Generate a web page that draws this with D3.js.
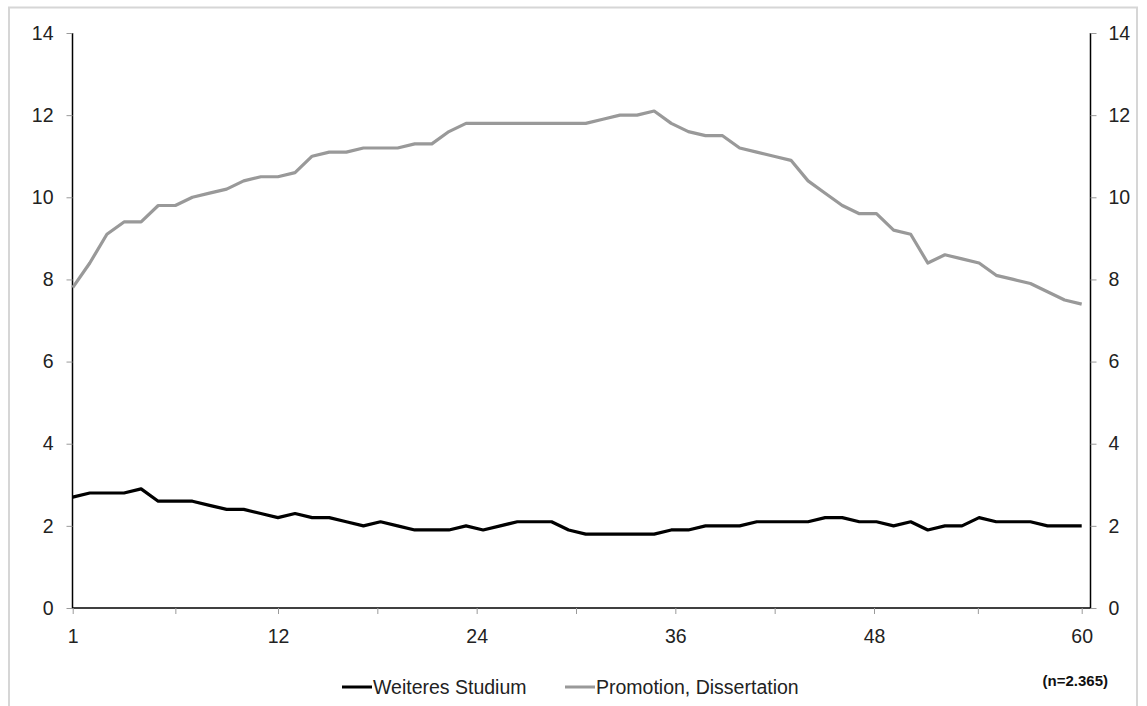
<!DOCTYPE html>
<html><head><meta charset="utf-8">
<script src="https://cdn.jsdelivr.net/npm/d3@7"></script>
<style>
html,body{margin:0;padding:0;background:#fff;}
svg text{font-family:"Liberation Sans",Arial,sans-serif;}
</style></head>
<body><svg id="c" width="1147" height="706"></svg>
<script>
const months = d3.range(1, 61);
const weiteresStudium = [2.7,2.8,2.8,2.8,2.9,2.6,2.6,2.6,2.5,2.4,2.4,2.3,2.2,2.3,2.2,2.2,2.1,2.0,2.1,2.0,1.9,1.9,1.9,2.0,1.9,2.0,2.1,2.1,2.1,1.9,1.8,1.8,1.8,1.8,1.8,1.9,1.9,2.0,2.0,2.0,2.1,2.1,2.1,2.1,2.2,2.2,2.1,2.1,2.0,2.1,1.9,2.0,2.0,2.2,2.1,2.1,2.1,2.0,2.0,2.0];
const promotion = [7.8,8.4,9.1,9.4,9.4,9.8,9.8,10.0,10.1,10.2,10.4,10.5,10.5,10.6,11.0,11.1,11.1,11.2,11.2,11.2,11.3,11.3,11.6,11.8,11.8,11.8,11.8,11.8,11.8,11.8,11.8,11.9,12.0,12.0,12.1,11.8,11.6,11.5,11.5,11.2,11.1,11.0,10.9,10.4,10.1,9.8,9.6,9.6,9.2,9.1,8.4,8.6,8.5,8.4,8.1,8.0,7.9,7.7,7.5,7.4];
const yTicks = [0,2,4,6,8,10,12,14];
const xTickValues = [1,6.5,12,18,24,30,36,42,48,54,60];
const xTickLabels = {1:"1",12:"12",24:"24",36:"36",48:"48",60:"60"};
const seriesNames = ["Weiteres Studium","Promotion, Dissertation"];
const seriesColors = ["#000000","#999999"];
const note = "(n=2.365)";

(function(){
const svg = d3.select("#c");
svg.append("rect").attr("x",9).attr("y",7.5).attr("width",1128).attr("height",720)
  .attr("fill","none").attr("stroke","#d6d6d6").attr("stroke-width",2);

const pL = 72.5, pR = 1090.5, pT = 33, pB = 608;
const x = d3.scaleLinear().domain([1,60]).range([72.7,1081.7]);
const xAxisScale = d3.scaleLinear().domain([1,12,48,60]).range([72.7,278,874,1081.7]);
const y = d3.scaleLinear().domain([0,14]).range([pB, pT]);
const FS = 19.5;

const gl = svg.append("g").attr("transform",`translate(${pL},0)`)
  .call(d3.axisLeft(y).tickValues(yTicks).tickSize(6).tickPadding(13).tickFormat(d3.format("d")));
const gr = svg.append("g").attr("transform",`translate(${pR},0)`)
  .call(d3.axisRight(y).tickValues(yTicks).tickSize(6).tickPadding(12).tickFormat(d3.format("d")));
const gb = svg.append("g").attr("transform",`translate(0,${pB})`)
  .call(d3.axisBottom(xAxisScale).tickValues(xTickValues).tickSize(6).tickPadding(15)
    .tickFormat(d => xTickLabels[d] || ""));

[gl,gr,gb].forEach(g=>{
  g.select(".domain").attr("stroke","#000").attr("stroke-width",1.5);
  g.selectAll(".tick line").attr("stroke","#9a9a9a");
  g.selectAll(".tick text").attr("font-size",FS).attr("fill","#222");
});
gb.select(".domain").attr("d",`M${pL},0H${pR}`);
gl.select(".domain").attr("d",`M0,${pT}V${pB}`);
gr.select(".domain").attr("d",`M0,${pT}V${pB}`);

const line = d3.line().x((d,i)=>x(months[i])).y(d=>y(d));
svg.append("path").datum(promotion).attr("d",line).attr("fill","none")
  .attr("stroke",seriesColors[1]).attr("stroke-width",3.2).attr("stroke-linejoin","round");
svg.append("path").datum(weiteresStudium).attr("d",line).attr("fill","none")
  .attr("stroke",seriesColors[0]).attr("stroke-width",3.2).attr("stroke-linejoin","round");

const legX = [342, 565];
seriesNames.forEach((n,i)=>{
  svg.append("line").attr("x1",legX[i]).attr("x2",legX[i]+30).attr("y1",687).attr("y2",687)
    .attr("stroke",seriesColors[i]).attr("stroke-width",3);
  svg.append("text").attr("x",legX[i]+31).attr("y",694).attr("font-size",FS).attr("fill","#222").text(n);
});
svg.append("text").attr("x",1108).attr("y",686).attr("text-anchor","end")
  .attr("font-size",15).attr("font-weight","bold").attr("fill","#111").text(note);
})();
</script></body></html>
